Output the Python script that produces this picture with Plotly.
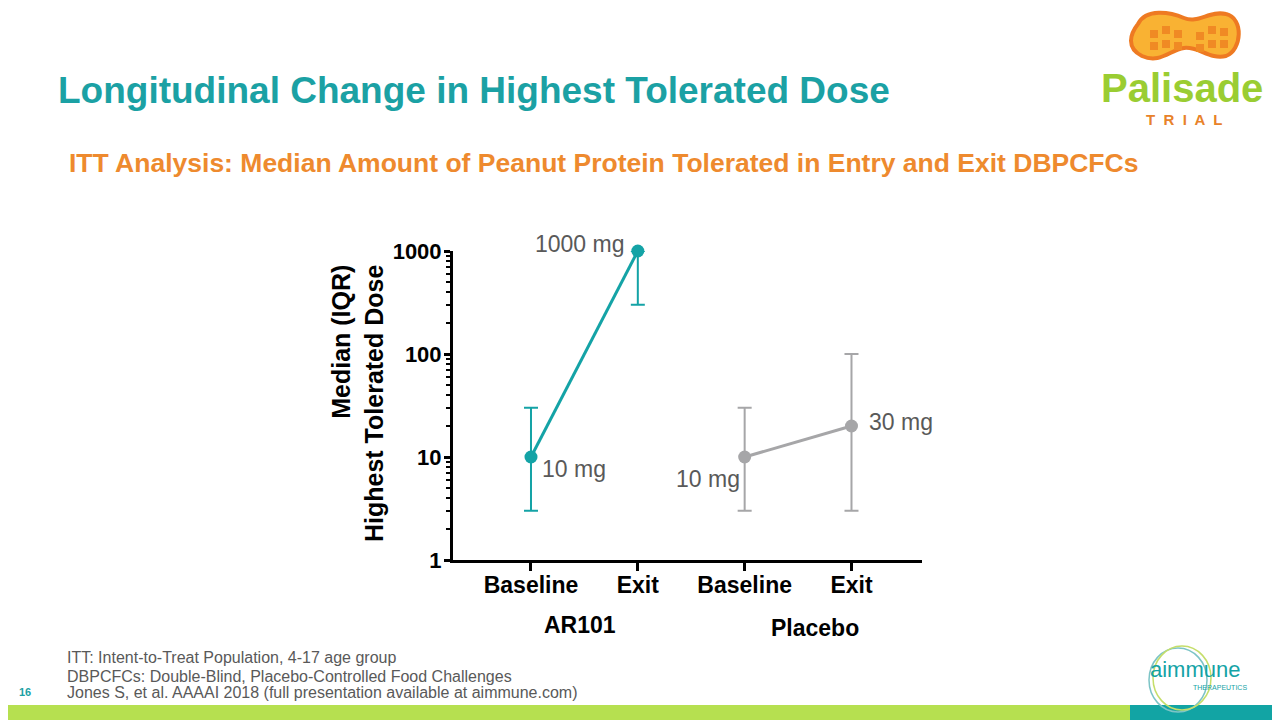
import math
import re
import plotly.graph_objects as go

# ---- data ----
categories = ["Baseline", "Exit", "Baseline", "Exit"]
groups = ["AR101", "Placebo"]
ar101_median = [10, 1000]
ar101_q1 = [3, 300]
ar101_q3 = [30, 1000]
placebo_median = [10, 20]
placebo_q1 = [3, 3]
placebo_q3 = [30, 100]
point_labels = ["10 mg", "1000 mg", "10 mg", "30 mg"]
ytick_vals = [1, 10, 100, 1000]
ytick_text = ["1", "10", "100", "1000"]

W, H = 1280, 720
OFF = 8  # page body margin
TEAL = "#14A3A6"
GRAY = "#A6A6A8"
TXT_GRAY = "#595959"
FONT = "Arial, Liberation Sans, sans-serif"


def px(x):
    return (x - OFF) / W


def py(y):
    return 1 - (y - OFF) / H


fig = go.Figure()
xpos = list(range(len(categories)))

fig.add_trace(go.Scatter(
    x=xpos[:2], y=ar101_median, mode="lines+markers",
    line=dict(color=TEAL, width=3), marker=dict(color=TEAL, size=13),
    error_y=dict(type="data", symmetric=False,
                 array=[q3 - m for q3, m in zip(ar101_q3, ar101_median)],
                 arrayminus=[m - q1 for q1, m in zip(ar101_q1, ar101_median)],
                 color=TEAL, thickness=2, width=7),
    cliponaxis=False, showlegend=False, name=groups[0]))

fig.add_trace(go.Scatter(
    x=xpos[2:], y=placebo_median, mode="lines+markers",
    line=dict(color=GRAY, width=3), marker=dict(color=GRAY, size=13),
    error_y=dict(type="data", symmetric=False,
                 array=[q3 - m for q3, m in zip(placebo_q3, placebo_median)],
                 arrayminus=[m - q1 for q1, m in zip(placebo_q1, placebo_median)],
                 color=GRAY, thickness=2, width=7),
    cliponaxis=False, showlegend=False, name=groups[1]))

all_medians = ar101_median + placebo_median
label_shift = [(9, -12, "left"), (-11, 7, "right"), (-3, -22, "right"), (16, 4, "left")]
for i, (lab, yv) in enumerate(zip(point_labels, all_medians)):
    dx, dy, anc = label_shift[i]
    fig.add_annotation(x=xpos[i], y=math.log10(yv), xref="x", yref="y",
                       text=lab, showarrow=False, xanchor=anc, yanchor="middle",
                       xshift=dx, yshift=dy,
                       font=dict(family=FONT, size=23, color=TXT_GRAY))

fig.update_layout(
    width=W, height=H, margin=dict(l=0, r=0, t=0, b=0, autoexpand=False),
    plot_bgcolor="white", paper_bgcolor="white",
    font=dict(family=FONT, color="black"),
    xaxis=dict(domain=[px(453), px(922)], range=[-0.73, 3.66], automargin=False,
               tickvals=xpos, ticktext=["<b>%s</b>" % c for c in categories],
               showgrid=False, zeroline=False,
               showline=True, linecolor="black", linewidth=3,
               ticks="outside", ticklen=8, tickwidth=3, tickcolor="black",
               ticklabelstandoff=-6,
               tickfont=dict(size=23, color="black", family=FONT)),
    yaxis=dict(domain=[py(560), py(251)], type="log", range=[0, 3.0], automargin=False,
               tickvals=ytick_vals, ticktext=["<b>%s</b>" % t for t in ytick_text],
               showgrid=False, zeroline=False,
               showline=True, linecolor="black", linewidth=3,
               ticks="outside", ticklen=6, tickwidth=3, tickcolor="black",
               ticklabelstandoff=-2,
               tickfont=dict(size=22, color="black", family=FONT),
               minor=dict(ticks="outside", ticklen=4, tickwidth=2, tickcolor="black",
                          tickvals=[m * d for d in [1, 10, 100] for m in range(2, 10)],
                          showgrid=False)),
)

# y axis title (rotated, lines aligned at the top end)
fig.add_annotation(x=px(357), y=py(404), xref="paper", yref="paper",
                   text="<b>Median (IQR)<br>Highest Tolerated Dose</b>", textangle=-90,
                   align="right", showarrow=False, xanchor="center", yanchor="middle",
                   font=dict(size=25, color="black", family=FONT))

# group labels
fig.add_annotation(x=px(580), y=py(625), xref="paper", yref="paper", text="<b>%s</b>" % groups[0],
                   showarrow=False, xanchor="center", yanchor="middle",
                   font=dict(size=23, color="black", family=FONT))
fig.add_annotation(x=px(815), y=py(628), xref="paper", yref="paper", text="<b>%s</b>" % groups[1],
                   showarrow=False, xanchor="center", yanchor="middle",
                   font=dict(size=23, color="black", family=FONT))

# titles
fig.add_annotation(x=px(56), y=py(90), xref="paper", yref="paper", xanchor="left", yanchor="middle",
                   text="<b>Longitudinal Change in Highest Tolerated Dose</b>", showarrow=False,
                   font=dict(size=37, color="#1BA1A4", family=FONT))
fig.add_annotation(x=px(67), y=py(163), xref="paper", yref="paper", xanchor="left", yanchor="middle",
                   text="<b>ITT Analysis: Median Amount of Peanut Protein Tolerated in Entry and Exit DBPCFCs</b>",
                   showarrow=False, font=dict(size=26.5, color="#EE8A2E", family=FONT))

# footer
footer = ["ITT: Intent-to-Treat Population, 4-17 age group",
          "DBPCFCs: Double-Blind, Placebo-Controlled Food Challenges",
          "Jones S, et al. AAAAI 2018 (full presentation available at aimmune.com)"]
for t, yy in zip(footer, [657, 676, 692]):
    fig.add_annotation(x=px(65), y=py(yy), xref="paper", yref="paper", xanchor="left", yanchor="middle",
                       text=t, showarrow=False, font=dict(size=16, color=TXT_GRAY, family=FONT))
fig.add_annotation(x=px(17), y=py(692), xref="paper", yref="paper", xanchor="left", yanchor="middle",
                   text="<b>16</b>", showarrow=False, font=dict(size=11, color="#1BA1A4", family=FONT))

# bottom bars
fig.add_shape(type="rect", xref="paper", yref="paper", x0=-0.01, x1=px(1130), y0=-0.02, y1=py(705),
              fillcolor="#B6E050", line=dict(width=0), layer="below")
fig.add_shape(type="rect", xref="paper", yref="paper", x0=px(1130), x1=1.02, y0=-0.02, y1=py(705),
              fillcolor="#12A4A4", line=dict(width=0), layer="below")

# Palisade logo (approximate peanut outline)
peanut = ("M 1138 24 C 1146 8, 1170 12, 1184 18 C 1198 24, 1210 10, 1226 14 "
          "C 1244 18, 1242 50, 1226 56 C 1210 60, 1198 46, 1184 48 "
          "C 1170 50, 1160 64, 1142 56 C 1126 48, 1130 34, 1138 24 Z")


def to_paper(path):
    res, ci = "", 0
    for tok in re.split(r"(-?\d+\.?\d*)", path):
        if re.fullmatch(r"-?\d+\.?\d*", tok):
            v = float(tok)
            res += "%.5f" % (px(v) if ci % 2 == 0 else py(v))
            ci += 1
        else:
            res += tok
    return res


fig.add_shape(type="path", xref="paper", yref="paper", path=to_paper(peanut),
              fillcolor="#F9B233", line=dict(color="#EE7A22", width=4))
for (sx, sy) in [(1150, 30), (1162, 26), (1174, 30), (1150, 42), (1162, 40), (1174, 42),
                 (1196, 32), (1208, 26), (1220, 28), (1196, 44), (1208, 40), (1220, 40)]:
    fig.add_shape(type="rect", xref="paper", yref="paper", x0=px(sx), x1=px(sx + 8),
                  y0=py(sy + 8), y1=py(sy), fillcolor="#F08A24", line=dict(width=0))
fig.add_annotation(x=px(1182), y=py(88), xref="paper", yref="paper", text="<b>Palisade</b>",
                   showarrow=False, xanchor="center", yanchor="middle",
                   font=dict(size=40, color="#9ACD32", family="Liberation Sans Narrow, Arial Narrow, Arial"))
fig.add_annotation(x=px(1184), y=py(119), xref="paper", yref="paper", text="<b>T  R  I  A  L</b>",
                   showarrow=False, xanchor="center", yanchor="middle",
                   font=dict(size=15, color="#E8822A", family=FONT))

# aimmune logo (approximate)
fig.add_shape(type="circle", xref="paper", yref="paper",
              x0=px(1149), x1=px(1207), y0=py(712), y1=py(648),
              line=dict(color="#7CC4C6", width=1.5))
fig.add_shape(type="circle", xref="paper", yref="paper",
              x0=px(1153), x1=px(1211), y0=py(710), y1=py(646),
              line=dict(color="#C5DE6A", width=1.5))
fig.add_annotation(x=px(1195), y=py(669), xref="paper", yref="paper", text="aimmune",
                   showarrow=False, xanchor="center", yanchor="middle",
                   font=dict(size=22, color="#14A3A6", family=FONT))
fig.add_annotation(x=px(1220), y=py(687), xref="paper", yref="paper", text="THERAPEUTICS",
                   showarrow=False, xanchor="center", yanchor="middle",
                   font=dict(size=7, color="#14A3A6", family=FONT))

fig.write_html("out.html")
